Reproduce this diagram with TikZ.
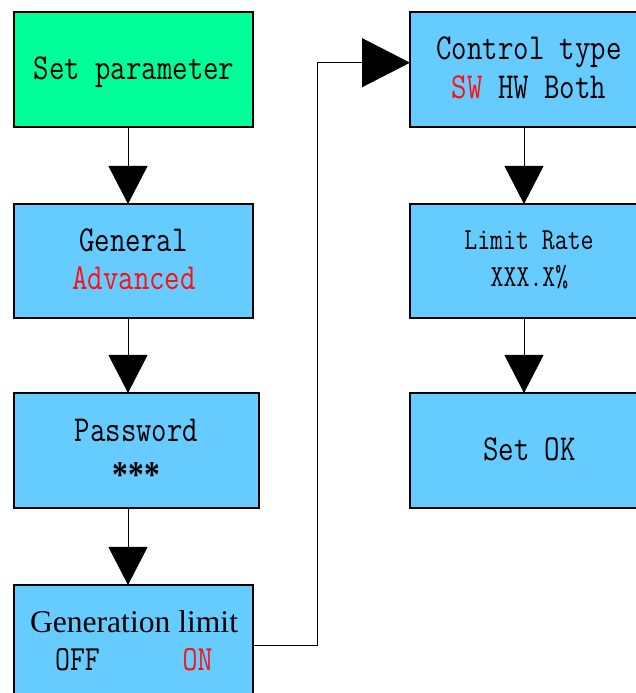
\documentclass[tikz,border=0pt]{standalone}
\usepackage{graphicx}
\usepackage{fontspec}
\setmainfont{Liberation Serif}
\usetikzlibrary{arrows.meta}
\definecolor{boxgreen}{HTML}{00FF99}
\definecolor{boxblue}{HTML}{66CCFF}
\definecolor{txtred}{HTML}{FF1010}
\newcommand{\mtxt}[2]{{\ttfamily\fontsize{#1}{#1}\selectfont\scalebox{1}[1.22]{#2}}}
\newcommand{\stxt}[2]{{\rmfamily\fontsize{#1}{#1}\selectfont #2}}
\tikzset{
  flowbox/.style={draw=black, line width=1.6pt, inner sep=0pt, outer sep=0pt},
  greenbox/.style={flowbox, fill=boxgreen},
  bluebox/.style={flowbox, fill=boxblue},
  lbl/.style={inner sep=0pt, outer sep=0pt, anchor=base},
  conn/.style={line width=0.8pt, draw=black},
  downtip/.style={-{Triangle[length=38pt,width=39pt]}},
  sidetip/.style={-{Triangle[length=48pt,width=49pt]}}
}
\begin{document}
\begin{tikzpicture}[x=1pt,y=1pt]
\useasboundingbox (0,0) rectangle (636,693);
\clip (0,0) rectangle (636,693);
\fill[white] (0,0) rectangle (636,693);

% boxes
\node[greenbox, minimum width=239pt, minimum height=115pt] (sp) at (133.5,623.5) {};
\node[bluebox, minimum width=239pt, minimum height=114pt] (gen) at (133.5,432) {};
\node[bluebox, minimum width=245pt, minimum height=115pt] (pw) at (136.5,242.5) {};
\node[bluebox, minimum width=239pt, minimum height=115pt] (gl) at (133.5,50.5) {};
\node[bluebox, minimum width=238pt, minimum height=115pt] (ct) at (529,623.5) {};
\node[bluebox, minimum width=238pt, minimum height=114pt] (lr) at (529,432) {};
\node[bluebox, minimum width=238pt, minimum height=115pt] (ok) at (529,242.5) {};

% texts
\node[lbl] (t1) at (134,613) {\mtxt{30}{Set parameter}};
\node[lbl] (t2) at (133.5,441) {\mtxt{30}{General}};
\node[lbl] (t3) at (134,403) {\mtxt{30}{\textcolor{txtred}{Advanced}}};
\node[lbl] (t4) at (136.5,251) {\mtxt{30}{Password}};
\node[lbl] (t5) at (136.5,205) {\stxt{31.6}{\bfseries\scalebox{1}[1.2]{***}}};
\node[lbl] (t6) at (134,60) {\stxt{31.6}{Generation limit}};
\node[lbl] (t7) at (77.5,22.3) {\mtxt{29}{OFF}};
\node[lbl] (t8) at (197.5,22.3) {\mtxt{29}{\textcolor{txtred}{ON}}};
\node[lbl] (t9) at (529,633) {\mtxt{30}{Control type}};
\node[lbl] (t10) at (529,594) {\mtxt{30}{\textcolor{txtred}{SW} HW Both}};
\node[lbl] (t11) at (529,443) {\mtxt{25.1}{Limit Rate}};
\node[lbl] (t12) at (529.5,406) {\mtxt{25.1}{XXX.X\%}};
\node[lbl] (t13) at (529.5,232) {\mtxt{30}{Set OK}};

% connectors
\draw[conn,downtip] ([xshift=-5.5pt]sp.south) -- ([xshift=-5.5pt]gen.north);
\draw[conn,downtip] ([xshift=-5.5pt]gen.south) -- ([xshift=-5.5pt]gen.south |- pw.north);
\draw[conn,downtip] ([xshift=-5.5pt]gl.north |- pw.south) -- ([xshift=-5.5pt]gl.north);
\draw[conn,downtip] ([xshift=-5pt]ct.south) -- ([xshift=-5pt]lr.north);
\draw[conn,downtip] ([xshift=-5pt]lr.south) -- ([xshift=-5pt]ok.north);
\coordinate (b1) at (317,48);
\coordinate (b2) at (317,630.3);
\draw[conn,sidetip] (gl.east |- b1) -- (b1) -- (b2) -- (ct.west |- b2);
\end{tikzpicture}
\end{document}
